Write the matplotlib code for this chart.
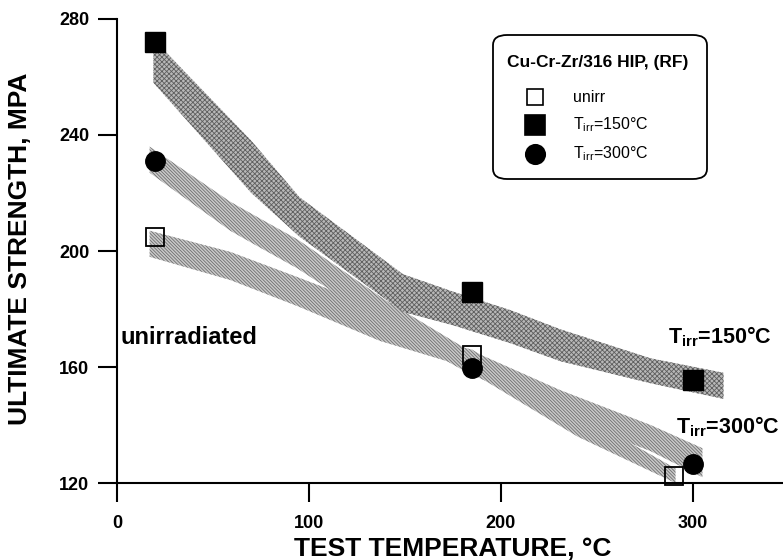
import matplotlib
matplotlib.use("Agg")
import matplotlib.pyplot as plt
from matplotlib.patches import FancyBboxPatch
from matplotlib.lines import Line2D

plt.rcParams['font.family'] = ['Liberation Sans', 'DejaVu Sans']
plt.rcParams['mathtext.fontset'] = 'custom'
plt.rcParams['mathtext.rm'] = 'Liberation Sans'
plt.rcParams['mathtext.bf'] = 'Liberation Sans:bold'
plt.rcParams['hatch.linewidth'] = 0.6

# measured points
temp_unirr = [20, 185, 290]
uts_unirr = [205, 164, 122.5]
temp_150 = [20, 185, 300]
uts_150 = [272, 186, 155.5]
temp_300 = [20, 185, 300]
uts_300 = [231, 159.5, 126.5]

# scatter bands (upper / lower edges)
band150_x = [19, 70, 95, 149, 175, 205, 231, 278, 316]
band150_hi = [273, 238, 218.6, 192, 186, 179.6, 173, 163, 158]
band150_lo = [258, 220, 205, 179, 174.4, 168.2, 162, 154.4, 149]

band300_x = [17, 59, 75, 94, 140, 180, 231, 278, 305]
band300_hi = [236, 217, 211, 204, 183, 167, 152, 140, 132]
band300_lo = [227, 207, 201, 194, 174, 159, 143, 131, 122]

bandun_x = [17, 59, 94, 137, 172, 185, 240, 291]
bandun_hi = [207, 199.7, 191, 180, 168, 166, 144, 125]
bandun_lo = [198, 190, 181, 169, 162, 158, 136, 120]

W, H = 783, 560
fig = plt.figure(figsize=(W / 100, H / 100), dpi=100)
ax = fig.add_axes([117 / W, (H - 483) / H, (W - 117) / W, (483 - 19) / H])
ax.set_xlim(0, 347)
ax.set_ylim(120, 280)

ax.fill_between(bandun_x, bandun_lo, bandun_hi, facecolor='#cacaca',
                edgecolor='#6e6e6e', hatch='\\' * 10, linewidth=0, zorder=1)
ax.fill_between(band300_x, band300_lo, band300_hi, facecolor='#cacaca',
                edgecolor='#6e6e6e', hatch='\\' * 10, linewidth=0, zorder=1)
ax.fill_between(band150_x, band150_lo, band150_hi, facecolor='#b8b8b8',
                edgecolor='#5e5e5e', hatch='x' * 7, linewidth=0, zorder=1)

ax.plot(temp_unirr, uts_unirr, 's', ms=13, mfc='none', mec='black', mew=1.3,
        clip_on=False, zorder=4)
ax.plot(temp_150, uts_150, 's', ms=14, mfc='black', mec='black', clip_on=False, zorder=4)
ax.plot(temp_300, uts_300, 'o', ms=14, mfc='black', mec='black', clip_on=False, zorder=5)

ax.text(2, 168, 'unirradiated', fontsize=17, fontweight='bold', va='baseline')
ax.text(287, 168.2, r'T$_{\mathbf{irr}}$=150°C', fontsize=15.5, fontweight='bold', va='baseline')
ax.text(291.5, 137.1, r'T$_{\mathbf{irr}}$=300°C', fontsize=15.5, fontweight='bold', va='baseline')

ax.spines['top'].set_visible(False)
ax.spines['right'].set_visible(False)
ax.spines['left'].set_linewidth(1.5)
ax.spines['bottom'].set_linewidth(1.5)
ax.set_xticks([0, 100, 200, 300])
ax.set_yticks([120, 160, 200, 240, 280])
ax.tick_params(axis='y', direction='out', length=14, width=1.5, pad=6, labelsize=13)
ax.tick_params(axis='x', direction='out', length=14, width=1.5, pad=9, labelsize=13)
for lbl in ax.get_xticklabels() + ax.get_yticklabels():
    lbl.set_fontweight('bold')

fig.text(453 / W, 1 - 556 / H, 'TEST TEMPERATURE, °C', fontsize=19, fontweight='bold',
         ha='center', va='baseline')
fig.text(20 / W, 1 - 249 / H, 'ULTIMATE STRENGTH, MPA', fontsize=19, fontweight='bold',
         ha='center', va='center', rotation=90)

# legend box
box = FancyBboxPatch((493 / W, 1 - 179 / H), (707 - 493) / W, (179 - 35) / H,
                     boxstyle='round,pad=0,rounding_size=0.018', transform=fig.transFigure,
                     facecolor='white', edgecolor='black', linewidth=1.3, zorder=6)
fig.add_artist(box)
fig.text(598 / W, 1 - 63 / H, 'Cu-Cr-Zr/316 HIP, (RF)', fontsize=12.5, fontweight='bold',
         ha='center', va='center', zorder=7)
leg_rows = [('s', 'none', 11, 'unirr', 97),
            ('s', 'black', 14, r'T$_{\mathrm{irr}}$=150°C', 125),
            ('o', 'black', 14, r'T$_{\mathrm{irr}}$=300°C', 154)]
for mk, fc, ms, label, py in leg_rows:
    fig.add_artist(Line2D([535 / W], [1 - py / H], marker=mk, ms=ms, mfc=fc, mec='black',
                          mew=1.2, ls='none', transform=fig.transFigure, zorder=7))
    fig.text(573 / W, 1 - py / H, label, fontsize=11.5, ha='left', va='center', zorder=7)

fig.savefig('out.png', dpi=100)
